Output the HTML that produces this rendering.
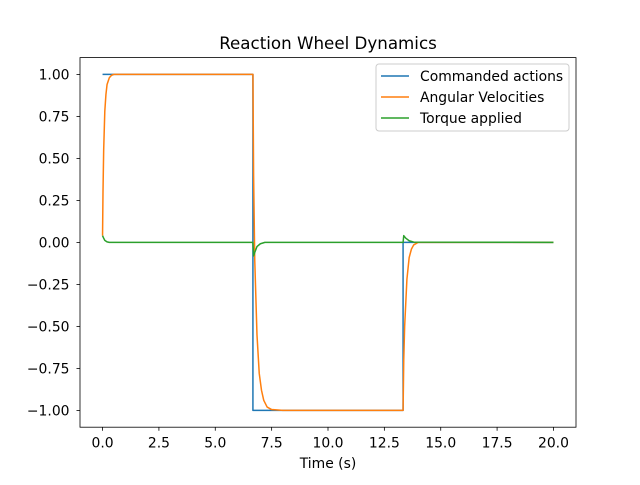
<!DOCTYPE html>
<html><head><meta charset="utf-8"><style>body{margin:0;background:#fff}svg{font-family:"DejaVu Sans","Liberation Sans",sans-serif}</style></head>
<body>
<svg id="chart" width="640" height="480" viewBox="0 0 640 480">
<rect width="640" height="480" fill="#fff"/>
<text x="328" y="49" text-anchor="middle" font-size="16.7">Reaction Wheel Dynamics</text>
<g id="plot"></g>
<rect x="80" y="57.6" width="496" height="369.6" fill="none" stroke="#000" stroke-width="0.8"/>
<text x="328" y="468" text-anchor="middle" font-size="13.9">Time (s)</text>
<g>
<rect x="376" y="64" width="193" height="67" rx="3" fill="#fff" fill-opacity="0.8" stroke="#ccc"/>
<line x1="381" y1="76" x2="409" y2="76" stroke="#1f77b4" stroke-width="1.5"/>
<text x="420" y="81" font-size="13.9">Commanded actions</text>
<line x1="381" y1="97" x2="409" y2="97" stroke="#ff7f0e" stroke-width="1.5"/>
<text x="420" y="102" font-size="13.9">Angular Velocities</text>
<line x1="381" y1="118" x2="409" y2="118" stroke="#2ca02c" stroke-width="1.5"/>
<text x="420" y="123" font-size="13.9">Torque applied</text>
</g>
</svg>
<script>
const xTicks=[0,2.5,5,7.5,10,12.5,15,17.5,20];
const xTickLabels=["0.0","2.5","5.0","7.5","10.0","12.5","15.0","17.5","20.0"];
const yTicks=[-1,-0.75,-0.5,-0.25,0,0.25,0.5,0.75,1];
const yTickLabels=["−1.00","−0.75","−0.50","−0.25","0.00","0.25","0.50","0.75","1.00"];
const cmdT=[0,6.67,6.67,13.33,13.33,20];
const cmdV=[1,1,-1,-1,0,0];
const angT=[0,0.02,0.05,0.1,0.15,0.2,0.3,0.4,0.5,6.67,6.7,6.75,6.85,6.95,7.05,7.15,7.3,7.5,8,13.33,13.36,13.4,13.5,13.6,13.7,13.8,14,20];
const angV=[0.04,0.3,0.55,0.78,0.88,0.94,0.98,0.995,1,1,0.4,-0.1,-0.55,-0.78,-0.88,-0.94,-0.98,-0.995,-1,-1,-0.7,-0.5,-0.22,-0.09,-0.04,-0.015,0,0];
const torT=[0,0.05,0.1,0.2,0.3,6.67,6.7,6.75,6.85,7.0,7.2,13.33,13.36,13.45,13.6,13.8,20];
const torV=[0.04,0.025,0.012,0.003,0,0,-0.08,-0.06,-0.025,-0.008,0,0,0.04,0.025,0.01,0.002,0];
const NS="http://www.w3.org/2000/svg";
const X=v=>80+(v+1)/22*496, Y=v=>242.4-v/1.1*184.8;
const g=document.getElementById('plot');
function mk(t,a){const e=document.createElementNS(NS,t);for(const k in a)e.setAttribute(k,a[k]);g.appendChild(e);return e;}
xTicks.forEach((v,i)=>{
 const l=mk('line',{x1:X(v),x2:X(v),y1:427.2,y2:430.7,stroke:'#000','stroke-width':0.8});
 
 
 const t=mk('text',{x:X(v),y:447.5,'text-anchor':'middle','font-size':13.9});t.textContent=xTickLabels[i];
 
 
});
yTicks.forEach((v,i)=>{
 const l=mk('line',{x1:76.5,x2:80,y1:Y(v),y2:Y(v),stroke:'#000','stroke-width':0.8});
 
 
 const t=mk('text',{x:69.5,y:Y(v)+5.3,'text-anchor':'end','font-size':13.9});t.textContent=yTickLabels[i];
 
 
});
function line(T,V,c,n){const p=mk('polyline',{points:T.map((t,i)=>X(t)+','+Y(V[i])).join(' '),fill:'none',stroke:c,'stroke-width':1.5,'stroke-linejoin':'round'});
 
 }
line(cmdT,cmdV,'#1f77b4','commanded-actions-line');
line(angT,angV,'#ff7f0e','angular-velocities-line');
line(torT,torV,'#2ca02c','torque-applied-line');
</script>
</body></html>
